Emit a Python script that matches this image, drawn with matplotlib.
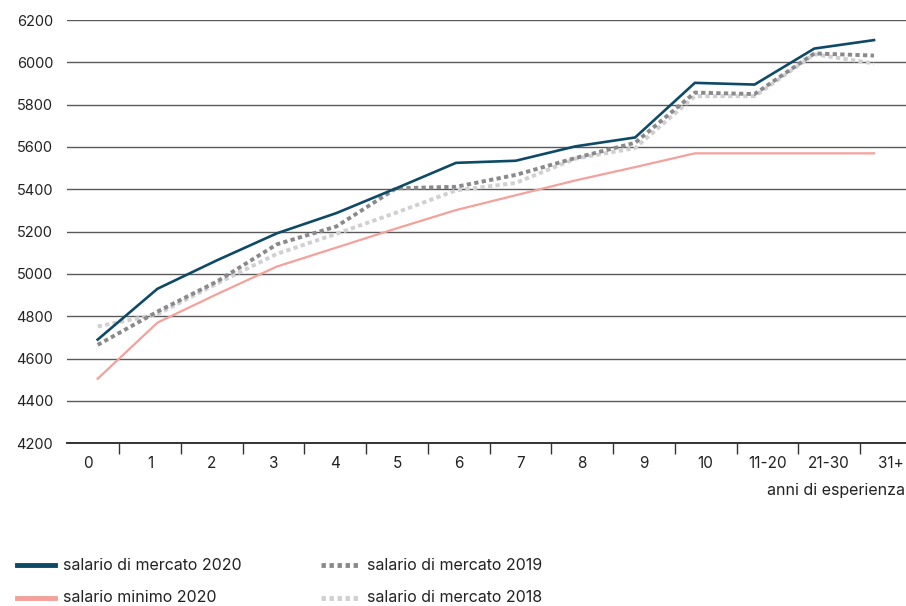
import matplotlib
matplotlib.use("Agg")
import matplotlib.pyplot as plt
from matplotlib.lines import Line2D
import numpy as np

plt.rcParams['font.family'] = ['Inter', 'DejaVu Sans']

categories = ["0", "1", "2", "3", "4", "5", "6", "7", "8", "9", "10", "11-20", "21-30", "31+"]
mercato_2020 = [4690, 4930, 5065, 5192, 5288, 5405, 5525, 5535, 5603, 5645, 5903, 5895, 6065, 6105]
minimo_2020 = [4505, 4770, 4905, 5035, 5125, 5215, 5302, 5372, 5442, 5505, 5570, 5570, 5570, 5570]
mercato_2019 = [4665, 4822, 4965, 5140, 5225, 5405, 5412, 5468, 5548, 5620, 5857, 5850, 6042, 6032]
mercato_2018 = [4752, 4810, 4955, 5095, 5190, 5290, 5395, 5430, 5545, 5595, 5840, 5840, 6038, 5995]

labels = ["salario di mercato 2020", "salario minimo 2020",
          "salario di mercato 2019", "salario di mercato 2018"]
c_blue = "#0e4a66"
c_pink = "#f4a19c"
c_dgrey = "#8a8a8c"
c_lgrey = "#d0d0d2"
txt = '#222222'
fs = 10.5

W, H = 906, 606
fig = plt.figure(figsize=(W / 100, H / 100), dpi=100)
ax_left, ax_right = 67, 906
ax_top, ax_bot = 20, 443.3
ax = fig.add_axes([ax_left / W, 1 - ax_bot / H, (ax_right - ax_left) / W, (ax_bot - ax_top) / H])

# pixel mapping of points: index 0 at 97.7px, 13 at 874px
p0, pstep = 97.7, (874 - 97.7) / 13
x = np.arange(len(categories))
ax.set_xlim((ax_left - p0) / pstep, (ax_right - p0) / pstep)
ax.set_ylim(4200, 6200)

ax.set_yticks(np.arange(4200, 6201, 200))
ax.grid(axis='y', color='#5a5a5a', linewidth=1.0)
ax.set_axisbelow(True)

dash = (1.1, 0.85)
ax.plot(x, mercato_2018, color=c_lgrey, linewidth=2.8, linestyle=(0, dash), zorder=3)
ax.plot(x, mercato_2019, color=c_dgrey, linewidth=2.8, linestyle=(0, dash), zorder=4)
ax.plot(x, minimo_2020, color=c_pink, linewidth=1.6, zorder=5, solid_joinstyle='miter')
ax.plot(x, mercato_2020, color=c_blue, linewidth=1.9, zorder=6, solid_joinstyle='miter')

# category boundaries (ticks) and labels, spaced as in the reference axis
b0, bstep = 119.0, 61.75
bounds = [(b0 + bstep * k - p0) / pstep for k in range(len(categories) - 1)]
label_pos = [(b0 - bstep / 2 + bstep * k - p0) / pstep for k in range(len(categories))]
ax.set_xticks(bounds, minor=True)
ax.set_xticks(label_pos)
ax.set_xticklabels(categories)
ax.tick_params(axis='x', which='major', length=0, pad=9, labelsize=fs + 0.5, labelcolor=txt)
ax.tick_params(axis='x', which='minor', length=8, width=1.0, color='#333333')
ax.tick_params(axis='y', length=0, pad=10, labelsize=fs, labelcolor=txt)

for s in ['top', 'right', 'left']:
    ax.spines[s].set_visible(False)
ax.spines['bottom'].set_color('#333333')
ax.spines['bottom'].set_linewidth(1.4)

fig.text(905 / W, 1 - 491 / H, "anni di esperienza", ha='right', va='center', fontsize=fs + 1, color=txt)

# legend
def leg(x0, x1, y, color, text, dashed=False):
    yy = 1 - y / H
    if dashed:
        fig.add_artist(Line2D([x0 / W, x1 / W], [yy, yy], color=color, linewidth=3.5,
                              linestyle=(0, (0.9, 0.75)), transform=fig.transFigure))
    else:
        fig.add_artist(Line2D([x0 / W, x1 / W], [yy, yy], color=color, linewidth=3.5,
                              transform=fig.transFigure))
    fig.text((x1 + 8) / W, yy, text, ha='left', va='center', fontsize=fs + 1, color=txt)

leg(17, 55, 565, c_blue, labels[0])
leg(17, 55, 598, c_pink, labels[1])
leg(321, 359, 565, c_dgrey, labels[2], dashed=True)
leg(321, 359, 598, c_lgrey, labels[3], dashed=True)

fig.savefig("out.png", dpi=100)
